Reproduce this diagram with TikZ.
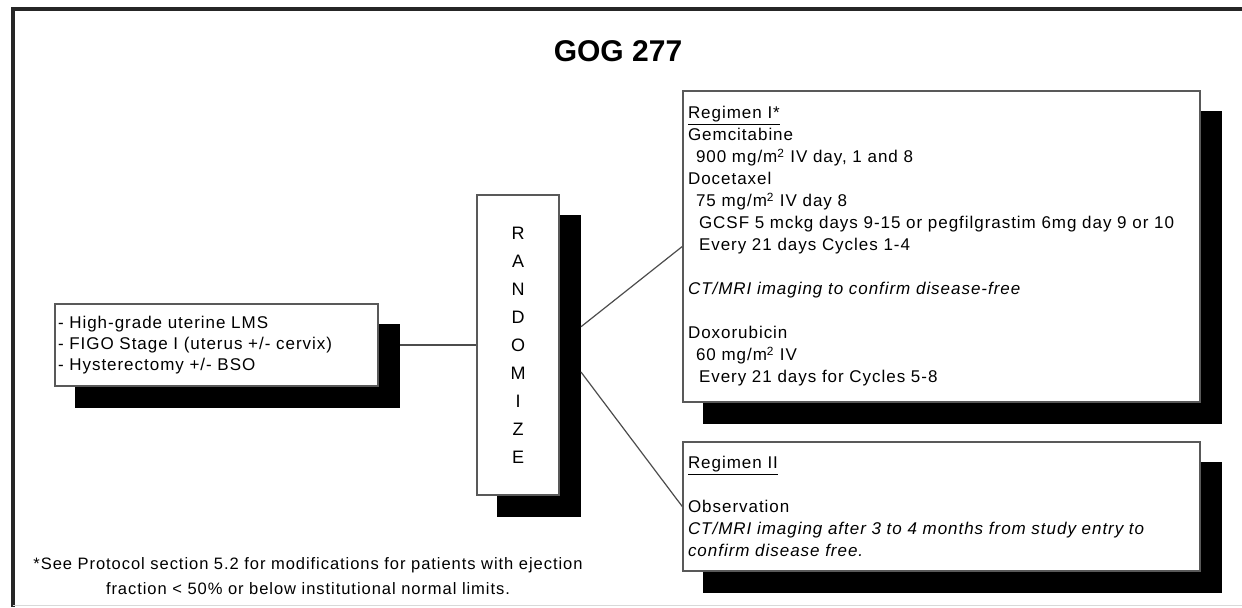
\documentclass[tikz,border=0pt]{standalone}
\usepackage{fontspec}
\setmainfont{Liberation Sans}
\newfontfamily\ancha{Liberation Sans}[LetterSpace=5.7]
\usetikzlibrary{calc,fit,backgrounds}
\newcommand{\cuerpo}{\ancha\fontsize{12.75pt}{16.5pt}\selectfont}
\tikzset{
  caja/.style    = {draw=black!65, line width=1.1pt, fill=white, align=left,
                    font=\cuerpo, inner ysep=0pt},
  sombra/.style  = {fill=black, inner sep=0pt},
  conector/.style = {draw=black!70, line width=0.9pt}
}

\begin{document}
\begin{tikzpicture}[x=0.75pt, y=-0.75pt]
    \useasboundingbox (0,0) rectangle (1242,607);
    % marco
    \draw[black!85, line width=3pt] (12.5,607) -- (12.5,9) -- (1242,9);
    \draw[black!15, line width=0.75pt] (12.5,605) -- (1242,605);

    \node[font=\bfseries\fontsize{22.5pt}{27pt}\selectfont] (title) at (618,51) {GOG 277};

    \node[caja, text width=237.75pt, inner xsep=2.25pt, minimum height=61.5pt,
          font=\ancha\fontsize{12.75pt}{15.75pt}\selectfont] (elig) at (216.5,345)
        {- High-grade uterine LMS\\- FIGO Stage I (uterus +/- cervix)\\- Hysterectomy +/- BSO};
    \node[caja, align=center, minimum width=61.5pt, minimum height=225pt,
          font=\ancha\fontsize{13.5pt}{21pt}\selectfont] (rand) at (518,345)
        {R\\A\\N\\D\\O\\M\\I\\Z\\E};
    \node[caja, text width=380.25pt, inner xsep=3.75pt, minimum height=233.25pt] (reg1) at (941.5,246.5)
        {\underline{Regimen I*}\\Gemcitabine\\
         \hspace*{6pt}900 mg/m\textsuperscript{2} IV day, 1 and 8\\Docetaxel\\
         \hspace*{6pt}75 mg/m\textsuperscript{2} IV day 8\\
         \hspace*{8.25pt}GCSF 5 mckg days 9-15 or pegfilgrastim 6mg day 9 or 10\\
         \hspace*{8.25pt}Every 21 days Cycles 1-4\\[16.5pt]
         \textit{CT/MRI imaging to confirm disease-free}\\[16.5pt]
         Doxorubicin\\
         \hspace*{6pt}60 mg/m\textsuperscript{2} IV\\
         \hspace*{8.25pt}Every 21 days for Cycles 5-8};
    \node[caja, text width=380.25pt, inner xsep=3.75pt, minimum height=96.75pt] (reg2) at (941.5,506.5)
        {\underline{Regimen II}\\[16.5pt]Observation\\
         \textit{CT/MRI imaging after 3 to 4 months from study entry to}\\
         \textit{confirm disease free.}};

    \begin{scope}[on background layer]
      \foreach \n in {elig,rand,reg1,reg2}
        \node[sombra, fit={([shift={(21,21)}]\n.north west) ([shift={(21,21)}]\n.south east)}] (\n sh) {};
    \end{scope}

    \draw[conector] (elig.east -| eligsh.east) -- (rand.west);
    \draw[conector] ($(randsh.north east)!0.37!(randsh.south east)$) -- (reg1.west);
    \draw[conector] ($(randsh.north east)!0.52!(randsh.south east)$) -- (reg2.west);

    \node[font=\ancha\fontsize{12.4pt}{18.75pt}\selectfont, align=center] (nota) at (308,576.5)
        {*See Protocol section 5.2 for modifications for patients with ejection\\
         fraction < 50\% or below institutional normal limits.};
  \end{tikzpicture}
\end{document}
